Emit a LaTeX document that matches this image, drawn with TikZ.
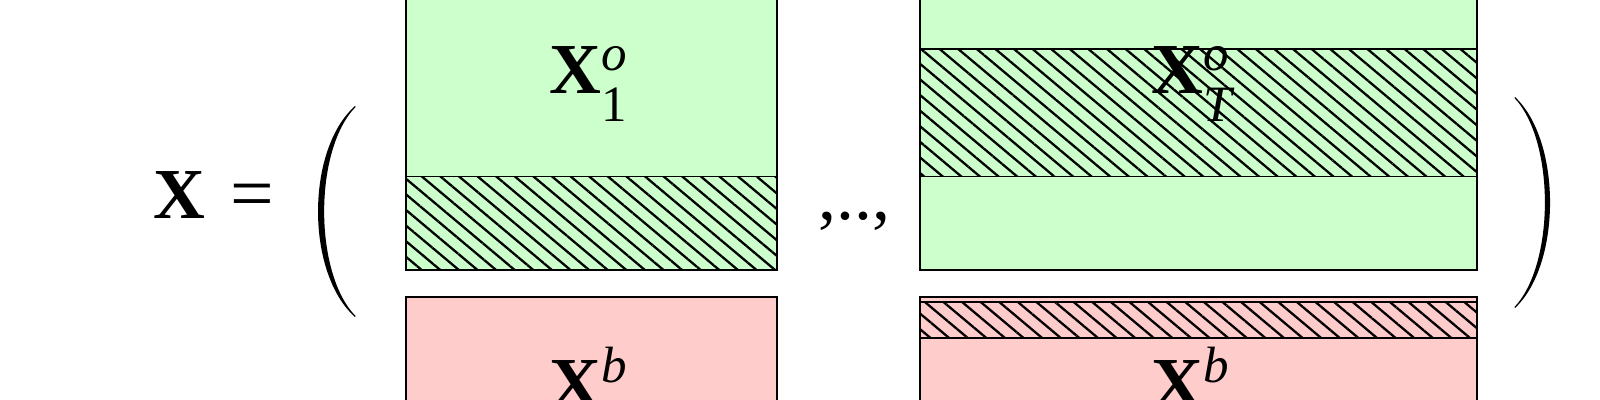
\documentclass[tikz,border=0pt]{standalone}
\usepackage{fontspec}
\setmainfont{Liberation Serif}
\usetikzlibrary{patterns.meta}
\definecolor{obsgreen}{HTML}{CCFFCC}
\definecolor{blkpink}{HTML}{FFCCCC}
\newcommand\mylab[3]{\textbf{X}\rlap{\raisebox{#3}{\fontsize{14.5}{16}\selectfont\itshape #1}}\raisebox{-8pt}{\fontsize{14.5}{16}\selectfont #2}}
\tikzset{
  blockbox/.style={draw=black, line width=0.45pt},
  hatched/.style={draw=black, line width=0.45pt,
    pattern={Lines[angle=-40,distance=3.4pt,line width=0.65pt]}, pattern color=black},
  lbl/.style={inner sep=0pt, anchor=base west, font=\fontsize{20.4}{24}\selectfont},
  parenfill/.style={fill=black, draw=none},
}
\begin{document}
\begin{tikzpicture}[x=0.01cm,y=-0.01cm]
\useasboundingbox (0,0) rectangle (1600,400);
\clip (0,0) rectangle (1600,400);
% left observed block
\fill[obsgreen] (406,-100) rectangle (777,270);
\draw[hatched] (406,176.5) rectangle (777,270);
\draw[blockbox] (406,-100) rectangle (777,270);
% right observed block
\fill[obsgreen] (920,-100) rectangle (1477,270);
\draw[hatched] (920,49) rectangle (1477,176.5);
\draw[blockbox] (920,-100) rectangle (1477,270);
% left background block
\fill[blkpink] (406,297) rectangle (777,500);
\draw[blockbox] (406,297) rectangle (777,500);
% right background block
\fill[blkpink] (920,297) rectangle (1477,500);
\draw[hatched] (920,302) rectangle (1477,338);
\draw[blockbox] (920,297) rectangle (1477,500);
% labels
\node[lbl] (xo1) at (549,93) {\mylab{o}{1}{6.5pt}};
\node[lbl] (xoT) at (1151,93) {\mylab{o}{\itshape T}{6.5pt}};
\node[lbl] (xb1) at (549,407) {\mylab{b}{1}{7pt}};
\node[lbl] (xbT) at (1151,407) {\mylab{b}{\itshape T}{7pt}};
\node[lbl] (xlhs) at (153,218) {\textbf{X}};
\node[lbl, font=\fontsize{22}{24}\selectfont] (eq) at (230,219) {=};
\node[lbl] (dots) at (818,219) {,..,};
% parentheses
\path[parenfill] (355,106) .. controls (305.7,150) and (305.7,273) .. (355,317)
  -- (355.5,316) .. controls (313.7,273) and (313.7,150) .. (355.5,107) -- cycle;
\path[parenfill] (1515,97) .. controls (1561.7,141) and (1561.7,264) .. (1515,308)
  -- (1514.5,307) .. controls (1555,264) and (1555,141) .. (1514.5,98) -- cycle;
\end{tikzpicture}
\end{document}
